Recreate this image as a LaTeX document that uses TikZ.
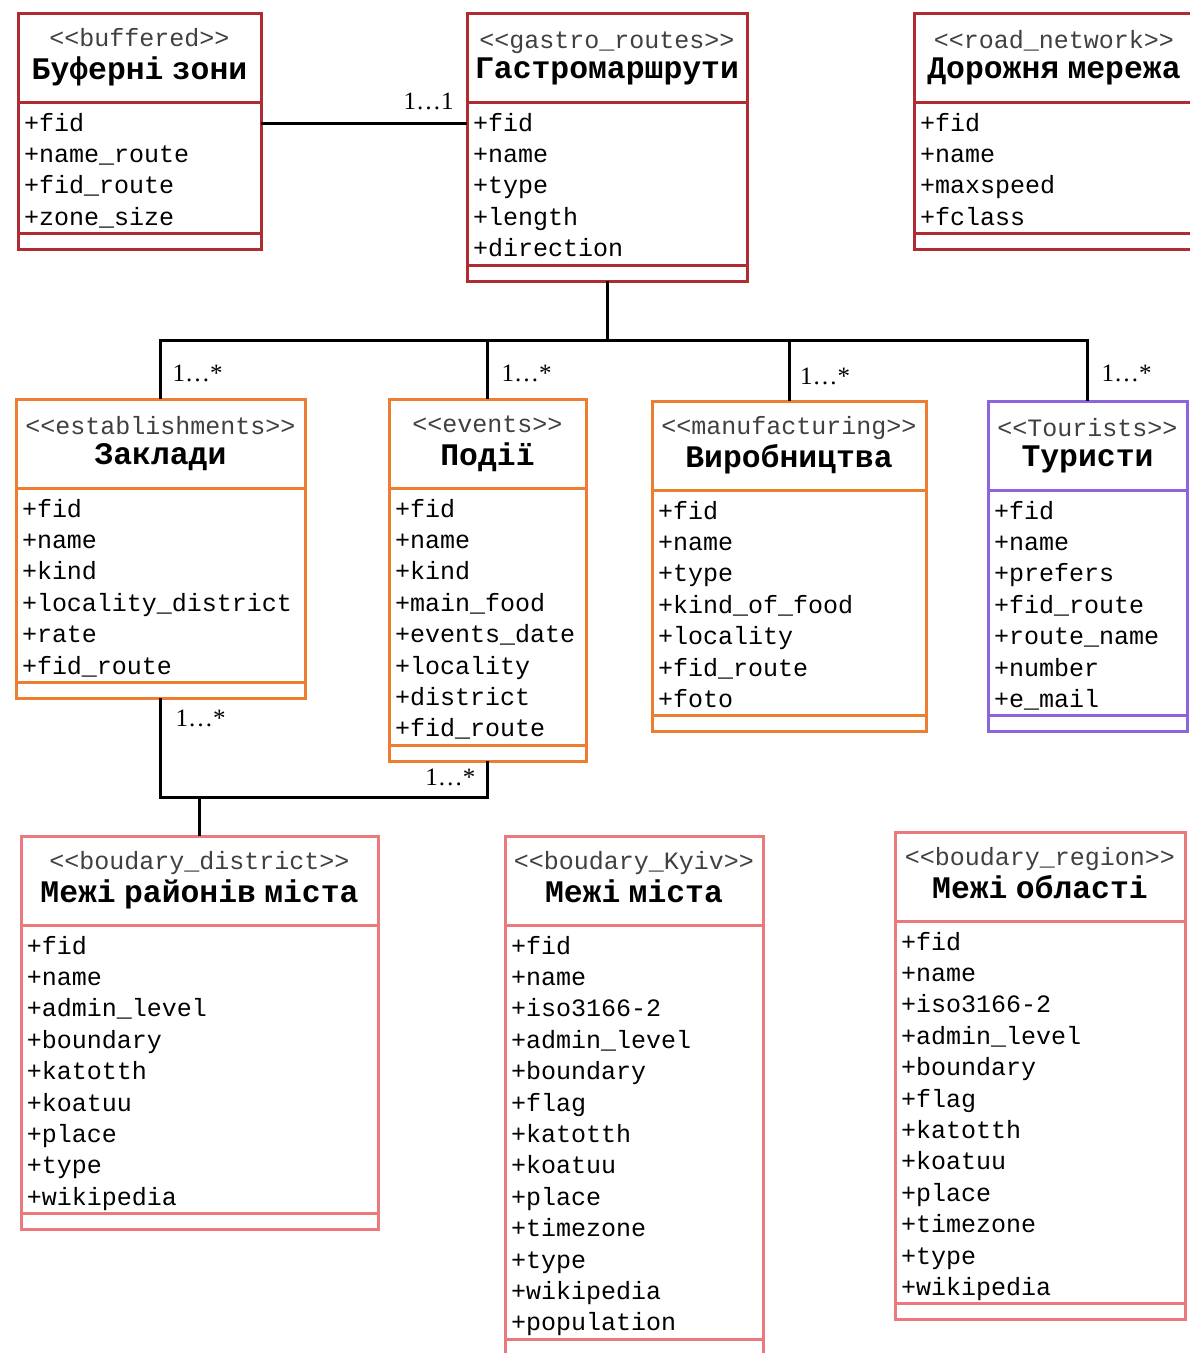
\documentclass[tikz,border=0pt]{standalone}
\usepackage{fontspec}
\newfontfamily\umlfont{Liberation Mono}
\newfontfamily\multfont{Liberation Serif}
\usetikzlibrary{positioning}
\definecolor{wine}{RGB}{176,44,50}
\definecolor{carrot}{RGB}{237,125,49}
\definecolor{lilac}{RGB}{140,100,220}
\definecolor{salmon}{RGB}{234,120,124}
\newcommand{\stereo}[1]{<{}<#1>{}>}
\newcommand{\ctitle}[1]{{\color{black}\bfseries\fontsize{31.4}{30}\selectfont #1}}
\tikzset{
    %Define style for class boxes
    umlbox/.style={
           rectangle,
           draw=#1, line width=3pt,
           outer sep=0pt,
           inner xsep=6pt,
           inner ysep=0pt},
    head/.style={
           umlbox=#1,
           align=center,
           minimum height=89pt,
           text=black!75,
           font=\umlfont\fontsize{25}{30}\selectfont,
           execute at begin node=\rule[-9pt]{0pt}{34pt},
           execute at end node=\rule[-14pt]{0pt}{35pt}},
    body/.style={
           umlbox=#1,
           align=left,
           inner ysep=3pt,
           text=black,
           font=\umlfont\fontsize{25}{31.4}\selectfont,
           execute at begin node=\rule{0pt}{26pt},
           execute at end node=\rule[-5.4pt]{0pt}{5.4pt}},
    foot/.style={
           umlbox=#1,
           minimum height=16pt},
    % Define connector style
    link/.style={
           line width=3pt,
           black},
    mult/.style={
           inner sep=0pt,
           font=\multfont\fontsize{25}{28}\selectfont}
}
\begin{document}
\begin{tikzpicture}[x=1pt,y=1pt]
\useasboundingbox (0,0) rectangle (1190,-1353);
% top row
\node[head=wine, text width=231pt, anchor=north west] (bufhead) at (18,-13) {\stereo{buffered}\\\ctitle{Буферні зони}};
\node[body=wine, text width=231pt, below=0pt of bufhead] (bufbody) {+fid\\+name\_route\\+fid\_route\\+zone\_size};
\node[foot=wine, text width=231pt, below=0pt of bufbody] (buffoot) {};
\node[head=wine, text width=268pt, anchor=north west] (gashead) at (467,-13) {\stereo{gastro\_routes}\\\ctitle{Гастромаршрути}};
\node[body=wine, text width=268pt, below=0pt of gashead] (gasbody) {+fid\\+name\\+type\\+length\\+direction};
\node[foot=wine, text width=268pt, below=0pt of gasbody] (gasfoot) {};
\node[head=wine, text width=268pt, anchor=north west] (roadhead) at (914,-13) {\stereo{road\_network}\\\ctitle{Дорожня мережа}};
\node[body=wine, text width=268pt, below=0pt of roadhead] (roadbody) {+fid\\+name\\+maxspeed\\+fclass};
\node[foot=wine, text width=268pt, below=0pt of roadbody] (roadfoot) {};
% middle row
\node[head=carrot, text width=277pt, anchor=north west] (esthead) at (16,-399) {\stereo{establishments}\\\ctitle{Заклади}};
\node[body=carrot, text width=277pt, below=0pt of esthead] (estbody) {+fid\\+name\\+kind\\+locality\_district\\+rate\\+fid\_route};
\node[foot=carrot, text width=277pt, below=0pt of estbody] (estfoot) {};
\node[head=carrot, text width=185pt, anchor=north west] (evhead) at (389,-399) {\stereo{events}\\\ctitle{Події}};
\node[body=carrot, text width=185pt, below=0pt of evhead] (evbody) {+fid\\+name\\+kind\\+main\_food\\+events\_date\\+locality\\+district\\+fid\_route};
\node[foot=carrot, text width=185pt, below=0pt of evbody] (evfoot) {};
\node[head=carrot, text width=262pt, anchor=north west] (manhead) at (652,-401) {\stereo{manufacturing}\\\ctitle{Виробництва}};
\node[body=carrot, text width=262pt, below=0pt of manhead] (manbody) {+fid\\+name\\+type\\+kind\_of\_food\\+locality\\+fid\_route\\+foto};
\node[foot=carrot, text width=262pt, below=0pt of manbody] (manfoot) {};
\node[head=lilac, text width=187pt, anchor=north west] (tourhead) at (988,-401) {\stereo{Tourists}\\\ctitle{Туристи}};
\node[body=lilac, text width=187pt, below=0pt of tourhead] (tourbody) {+fid\\+name\\+prefers\\+fid\_route\\+route\_name\\+number\\+e\_mail};
\node[foot=lilac, text width=187pt, below=0pt of tourbody] (tourfoot) {};
% bottom row
\node[head=salmon, text width=345pt, anchor=north west] (disthead) at (21,-836) {\stereo{boudary\_district}\\\ctitle{Межі районів міста}};
\node[body=salmon, text width=345pt, below=0pt of disthead] (distbody) {+fid\\+name\\+admin\_level\\+boundary\\+katotth\\+koatuu\\+place\\+type\\+wikipedia};
\node[foot=salmon, text width=345pt, below=0pt of distbody] (distfoot) {};
\node[head=salmon, text width=246pt, anchor=north west] (kyivhead) at (505,-836) {\stereo{boudary\_Kyiv}\\\ctitle{Межі міста}};
\node[body=salmon, text width=246pt, below=0pt of kyivhead] (kyivbody) {+fid\\+name\\+iso3166-2\\+admin\_level\\+boundary\\+flag\\+katotth\\+koatuu\\+place\\+timezone\\+type\\+wikipedia\\+population};
\node[foot=salmon, text width=246pt, below=0pt of kyivbody] (kyivfoot) {};
\node[head=salmon, text width=278pt, anchor=north west] (reghead) at (895,-832) {\stereo{boudary\_region}\\\ctitle{Межі області}};
\node[body=salmon, text width=278pt, below=0pt of reghead] (regbody) {+fid\\+name\\+iso3166-2\\+admin\_level\\+boundary\\+flag\\+katotth\\+koatuu\\+place\\+timezone\\+type\\+wikipedia};
\node[foot=salmon, text width=278pt, below=0pt of regbody] (regfoot) {};
% connectors
\coordinate (bufport) at ([yshift=-21pt]bufbody.north east);
\draw[link] (bufport) -- (bufport -| gasbody.west)
    node[mult, above left=12pt and 12pt] (m1) {1…1};
\draw[link] (gasfoot.south) -- ++(0,-59) coordinate (bus);
\draw[link] (esthead.north) |- (bus) -| (tourhead.north);
\draw[link] (evhead.north) -- (evhead.north |- bus);
\draw[link] (manhead.north) -- (manhead.north |- bus);
\draw[link] (estfoot.south) -- ++(0,-99) coordinate (low) -| (evfoot.south);
\draw[link] (disthead.north) -- (disthead.north |- low);
\node[mult, above right=17pt and 12pt of esthead.north] (m2) {1…*};
\node[mult, above right=17pt and 14pt of evhead.north] (m3) {1…*};
\node[mult, above right=16pt and 11pt of manhead.north] (m4) {1…*};
\node[mult, above right=19pt and 14pt of tourhead.north] (m5) {1…*};
\node[mult, below right=11pt and 15pt of estfoot.south] (m6) {1…*};
\node[mult, below left=8pt and 12pt of evfoot.south] (m7) {1…*};
\end{tikzpicture}
\end{document}
